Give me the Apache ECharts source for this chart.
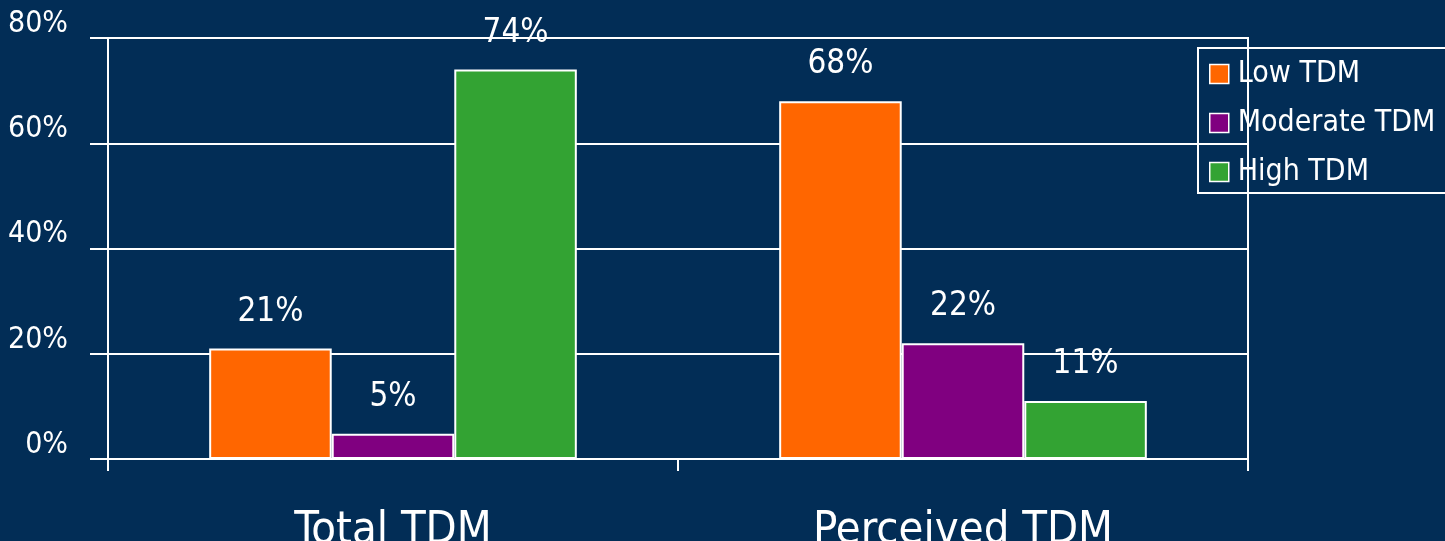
<!DOCTYPE html>
<html>
<head>
<meta charset="utf-8">
<script src="https://cdn.jsdelivr.net/npm/echarts@6/dist/echarts.min.js"></script>
<style>
html,body{margin:0;padding:0;background:#022d56;}
#chart{width:1445px;height:541px;}
</style>
</head>
<body>
<div id="chart"></div>
<script>
const categories = ['Total TDM', 'Perceived TDM'];
const seriesNames = ['Low TDM', 'Moderate TDM', 'High TDM'];
const lowTDM = [21, 68];
const moderateTDM = [4.8, 22];
const highTDM = [74, 11];
const yTicks = [0, 20, 40, 60, 80];
const colors = ['#ff6600', '#800080', '#33a333'];

const FONT = '"DejaVu Sans Condensed", "DejaVu Sans", sans-serif';
const chart = echarts.init(document.getElementById('chart'));
const values = [lowTDM, moderateTDM, highTDM];

chart.setOption({
  backgroundColor: '#022d56',
  animation: false,
  textStyle: { fontFamily: FONT },
  grid: { left: 108, right: 197, top: 38, bottom: 82, show: true, borderColor: '#ffffff', borderWidth: 2,
    containLabel: false, outerBoundsMode: 'none' },
  legend: {
    orient: 'vertical', left: 1198, top: 48,
    padding: [10, 30, 5, 11],
    borderColor: '#ffffff', borderWidth: 2,
    itemWidth: 19, itemHeight: 19, itemGap: 17,
    icon: 'rect',
    itemStyle: { borderColor: '#ffffff', borderWidth: 1.5 },
    textStyle: { color: '#ffffff', fontSize: 30, fontFamily: FONT, lineHeight: 32, padding: [0, 0, 0, 4] },
    data: seriesNames
  },
  xAxis: {
    type: 'category', data: categories,
    axisLine: { lineStyle: { color: '#ffffff', width: 2 } },
    axisTick: { show: true, length: 12, lineStyle: { color: '#ffffff', width: 2 } },
    axisLabel: { color: '#ffffff', fontSize: 45, margin: 50, fontFamily: FONT }
  },
  yAxis: {
    type: 'value', min: yTicks[0], max: yTicks[yTicks.length - 1], interval: 20,
    axisLine: { show: true, lineStyle: { color: '#ffffff', width: 2 } },
    axisTick: { show: true, length: 18, lineStyle: { color: '#ffffff', width: 2 } },
    splitLine: { lineStyle: { color: '#ffffff', width: 2 } },
    axisLabel: { color: '#ffffff', fontSize: 30, lineHeight: 28, margin: 40, fontFamily: FONT,
      verticalAlign: 'bottom',
      formatter: v => v + '%' }
  },
  series: seriesNames.map((n, i) => ({
    name: n, type: 'bar', data: values[i],
    barGap: '0%', barCategoryGap: '35.5%',
    itemStyle: { color: colors[i], borderColor: '#ffffff', borderWidth: 2 },
    label: { show: true, position: 'top', distance: 20, color: '#ffffff', fontSize: 33, fontFamily: FONT,
      formatter: p => Math.round(p.value) + '%' }
  }))
});
</script>
</body>
</html>
